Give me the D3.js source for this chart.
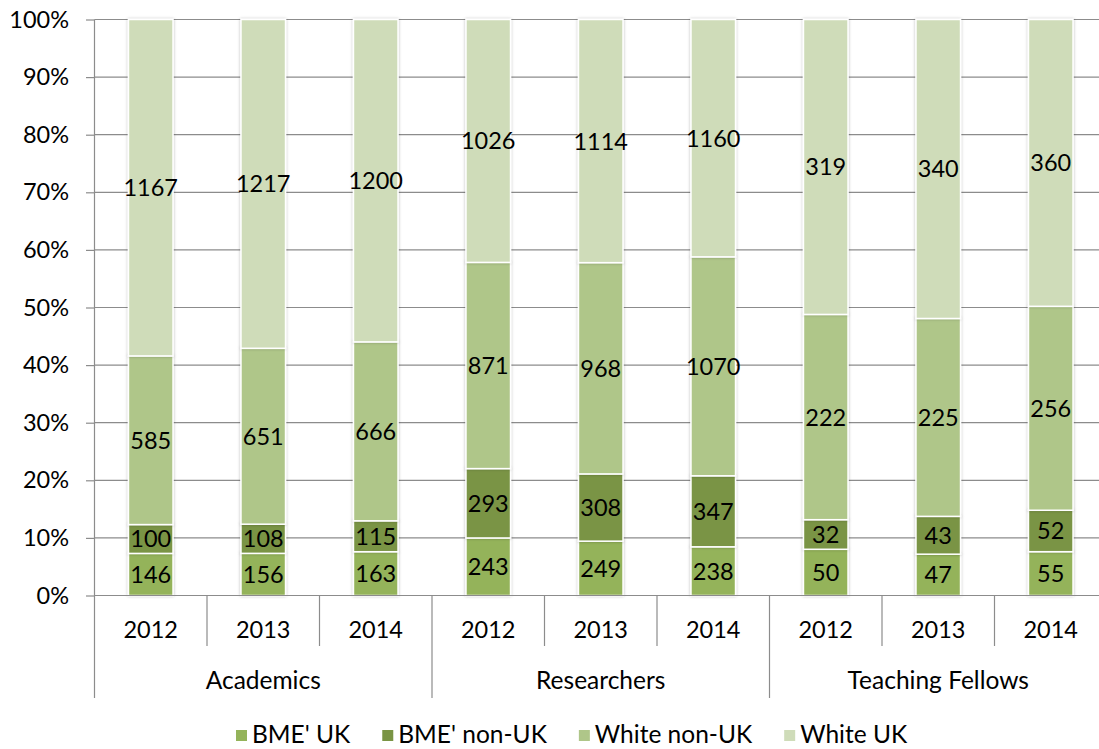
<!DOCTYPE html>
<html>
<head>
<meta charset="utf-8">
<script src="https://cdn.jsdelivr.net/npm/d3@7"></script>
<style>
  html, body { margin: 0; padding: 0; background: #fff; }
  svg { display: block; }
  text { font-family: Lato, "Open Sans", "DejaVu Sans", sans-serif; fill: #000; }
</style>
</head>
<body>
<svg id="chart" width="1099" height="749"></svg>
<script>
// Staff headcounts by ethnicity and nationality, per staff group and year
const groups = ["Academics", "Researchers", "Teaching Fellows"];
const years = ["2012", "2013", "2014"];
const seriesNames = ["BME' UK", "BME' non-UK", "White non-UK", "White UK"];
const seriesColors = ["#94b35a", "#7a9444", "#afc689", "#cfdcb9"];

// One entry per bar, in group/year order
const bmeUK      = [146, 156, 163, 243, 249, 238, 50, 47, 55];
const bmeNonUK   = [100, 108, 115, 293, 308, 347, 32, 43, 52];
const whiteNonUK = [585, 651, 666, 871, 968, 1070, 222, 225, 256];
const whiteUK    = [1167, 1217, 1200, 1026, 1114, 1160, 319, 340, 360];

const yTicks = [0, 0.1, 0.2, 0.3, 0.4, 0.5, 0.6, 0.7, 0.8, 0.9, 1.0];

const svg = d3.select("#chart");
const fontSize = 23.5;
const catFontSize = 24.5;

const plot = { left: 94.5, right: 1107, top: 19.5, bottom: 595.5 };

const rows = [];
groups.forEach((g, gi) => years.forEach((yr, yi) => {
  const i = gi * years.length + yi;
  rows.push({ group: g, year: yr,
    "BME' UK": bmeUK[i], "BME' non-UK": bmeNonUK[i],
    "White non-UK": whiteNonUK[i], "White UK": whiteUK[i] });
}));

const stack = d3.stack().keys(seriesNames).offset(d3.stackOffsetExpand);
const layers = stack(rows);

const xGroup = d3.scaleBand().domain(groups).range([plot.left, plot.right]).padding(0);
const xYear = d3.scaleBand().domain(years).range([0, xGroup.bandwidth()])
  .paddingInner(0.604).paddingOuter(0.302);
const y = d3.scaleLinear().domain([0, 1]).range([plot.bottom, plot.top]);

const barX = d => xGroup(d.data.group) + xYear(d.data.year);

// soft shadow around each bar
const defs = svg.append("defs");
const f = defs.append("filter").attr("id", "barShadow")
  .attr("x", "-20%").attr("y", "-5%").attr("width", "140%").attr("height", "110%");
f.append("feDropShadow").attr("dx", 0).attr("dy", 0).attr("stdDeviation", 1.6)
  .attr("flood-color", "#000").attr("flood-opacity", 0.28);

// horizontal gridlines
svg.append("g").selectAll("line").data(yTicks).join("line")
  .attr("x1", plot.left).attr("x2", plot.right)
  .attr("y1", d => y(d)).attr("y2", d => y(d))
  .attr("stroke", "#8c8c8c").attr("stroke-width", 1.2);

// y axis
const yAxis = d3.axisLeft(y).tickValues(yTicks).tickSize(8.5).tickPadding(17)
  .tickFormat(d3.format(".0%"));
const yg = svg.append("g").attr("transform", `translate(${plot.left},0)`).call(yAxis);
yg.select(".domain").remove();
yg.selectAll(".tick line").attr("stroke", "#8c8c8c").attr("stroke-width", 1.2);
yg.selectAll(".tick text").attr("font-size", fontSize)
  .style("font-family", "Lato, 'Open Sans', sans-serif").attr("fill", "#000");

// stacked bars
const barsG = svg.append("g");
layers.forEach((layer, li) => {
  barsG.append("g").attr("filter", "url(#barShadow)")
    .selectAll("rect").data(layer).join("rect")
    .attr("x", barX)
    .attr("y", d => y(d[1]))
    .attr("width", xYear.bandwidth())
    .attr("height", d => y(d[0]) - y(d[1]))
    .attr("fill", seriesColors[li])
    .attr("stroke", "#fff").attr("stroke-width", 1.5);
});

// value labels centred in each segment
const labelsG = svg.append("g");
layers.forEach(layer => {
  labelsG.append("g").selectAll("text").data(layer).join("text")
    .attr("x", d => barX(d) + xYear.bandwidth() / 2)
    .attr("y", d => y((d[0] + d[1]) / 2))
    .attr("dy", "0.36em")
    .attr("text-anchor", "middle")
    .attr("font-size", fontSize)
    .text(d => d.data[layer.key]);
});

// x axis: baseline, year separators and group separators
const axisG = svg.append("g").attr("stroke", "#8c8c8c").attr("stroke-width", 1.2);
axisG.append("line").attr("x1", plot.left).attr("x2", plot.right)
  .attr("y1", plot.bottom).attr("y2", plot.bottom);
axisG.append("line").attr("x1", plot.left).attr("x2", plot.left)
  .attr("y1", plot.top).attr("y2", 698);

groups.forEach((g, gi) => {
  years.forEach((yr, yi) => {
    if (yi === 0) return;
    const sx = xGroup(g) + xYear.step() * yi;
    axisG.append("line").attr("x1", sx).attr("x2", sx)
      .attr("y1", plot.bottom).attr("y2", 646);
  });
  const gx = xGroup(g) + xGroup.bandwidth();
  axisG.append("line").attr("x1", gx).attr("x2", gx)
    .attr("y1", plot.bottom).attr("y2", 698);
});

// year labels
svg.append("g").selectAll("text").data(rows).join("text")
  .attr("x", d => xGroup(d.group) + xYear(d.year) + xYear.bandwidth() / 2)
  .attr("y", 638)
  .attr("text-anchor", "middle")
  .attr("font-size", fontSize)
  .text(d => d.year);

// group labels
svg.append("g").selectAll("text").data(groups).join("text")
  .attr("x", d => xGroup(d) + xGroup.bandwidth() / 2)
  .attr("y", 689)
  .attr("text-anchor", "middle")
  .attr("font-size", catFontSize)
  .text(d => d);

// legend
const legend = svg.append("g");
let lx = 236;
seriesNames.forEach((name, i) => {
  const item = legend.append("g");
  item.append("rect").attr("x", lx).attr("y", 730).attr("width", 11).attr("height", 11)
    .attr("fill", seriesColors[i]);
  const t = item.append("text").attr("x", lx + 16).attr("y", 743)
    .attr("font-size", catFontSize).text(name);
  lx += 16 + t.node().getComputedTextLength() + 32;
});
</script>
</body>
</html>
